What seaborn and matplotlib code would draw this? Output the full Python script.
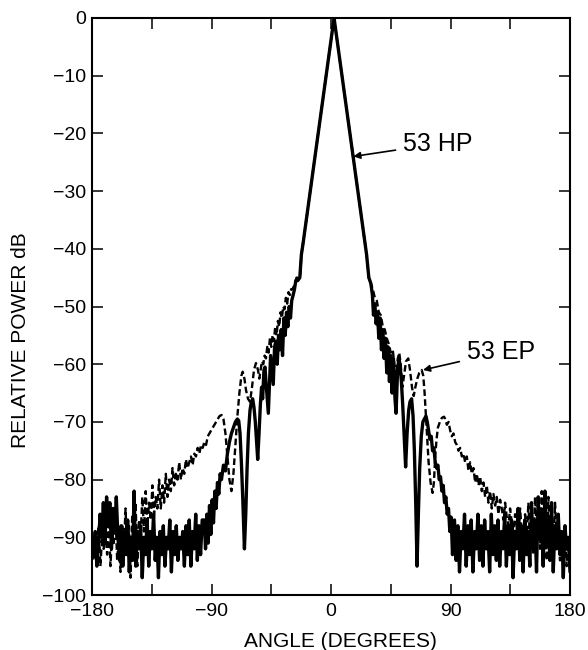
import numpy as np
import matplotlib
matplotlib.use("Agg")
import matplotlib.pyplot as plt
import seaborn as sns

# values: angle (deg), relative power (dB)

# 53 HP - noise floor on the left, sampled evenly from -180 to -97 deg
hp_left_floor = [-90, -93, -89, -95, -91,
                 -86, -90, -84, -91, -83, -88, -84, -92, -85, -89, -83,
                 -90, -94, -88, -95, -89, -93, -87, -96, -90, -94,
                 -82, -95, -89, -92, -88, -97, -90, -93, -87, -95, -89, -92,
                 -86, -94, -90, -97, -89, -93, -88, -95, -90, -92, -87, -96, -89, -93,
                 -88, -94, -90, -92, -89, -95, -88, -93, -87, -95, -89, -92, -86, -94,
                 -88, -93, -87]

# 53 HP - sidelobes and main beam
hp_lobes = [(-95.5, -87), (-94.5, -92), (-93.5, -86), (-92.5, -91), (-91.5, -84.5),
            (-90.5, -89.5), (-89.5, -83.5), (-88.5, -87.5), (-87.5, -82), (-86.5, -85),
            (-85.5, -80.5), (-84.5, -82.5), (-83.5, -79), (-82.5, -80), (-81, -77.5),
            (-79.5, -78.5), (-78, -75.5), (-76.5, -73.5), (-75, -72), (-73.5, -71),
            (-72, -70), (-70.5, -69.5), (-69.5, -69.8), (-68.5, -72), (-67.5, -77),
            (-66.5, -83), (-65.2, -92), (-64.2, -86), (-63.2, -78), (-62.2, -72),
            (-61, -68), (-60, -66.5), (-59, -66), (-58, -67.5), (-57, -70),
            (-56, -73.5), (-55.2, -76.5), (-54.2, -72), (-53.2, -67), (-52.3, -64),
            (-51.5, -66), (-50.5, -61), (-49.7, -60.5), (-49, -63), (-48, -66),
            (-47.2, -68.5), (-46.3, -63), (-45.5, -58.5), (-44.5, -61), (-43.5, -63.5),
            (-42.5, -57), (-41.5, -56), (-40.5, -60), (-39.5, -55), (-38.5, -57.5),
            (-37.5, -54), (-36.5, -58.5), (-35.5, -52), (-34.5, -55), (-33.5, -51),
            (-32.5, -53.5), (-31.5, -50), (-30.5, -52), (-29.6, -49), (-28.5, -48),
            (-27.5, -47), (-26.5, -45.5), (-25, -45.5), (-23.5, -45), (-22.3, -41),
            (-21, -39), (2.3, 0), (25.6, -39), (26.8, -41), (28.5, -45),
            (30, -46), (31.2, -48), (32, -51.5), (33, -49.5), (34, -53),
            (35, -51), (36, -55.5), (37, -52), (38, -57.5), (39, -54),
            (40, -59), (41, -55.5), (42, -61.5), (43, -57), (44, -63),
            (45, -58.5), (46, -65), (47, -59), (48.2, -66), (49, -68.5),
            (50, -62), (51, -59), (52, -60), (53, -63), (54, -67),
            (55.2, -73), (56.2, -77.8), (57.3, -72), (58.5, -68), (59.5, -66.5),
            (60.7, -66), (61.8, -69), (62.8, -75), (63.8, -84), (64.8, -95),
            (65.8, -86), (66.8, -78), (68, -72.5), (69.2, -70), (70.3, -69.5),
            (71.5, -69), (72.5, -70), (73.5, -71.5), (74.5, -73), (75.5, -72.5),
            (76.5, -75), (77.5, -74.5), (78.5, -77), (79.5, -78), (80.5, -77.5),
            (81.5, -80), (82.5, -79.5), (83.5, -82), (84.5, -81), (85.5, -84),
            (86.5, -83), (87.5, -86), (88.5, -85), (89.5, -89), (90.5, -86.5),
            (91.5, -93)]

# 53 HP - noise floor on the right, sampled evenly from 93 to 180 deg
hp_right_floor = [-87, -94, -88, -96, -89, -92, -86, -95, -88, -93, -87, -96, -89, -92,
                  -86, -94, -88, -95, -87, -92, -89, -96, -86, -93, -88, -94, -87, -95, -89, -92,
                  -86, -95, -88, -93, -87, -97, -89, -92, -85, -94, -88, -96, -87, -93, -89, -95,
                  -84, -92, -87, -96, -83, -90, -86, -95, -82, -91, -87, -94, -84, -96, -88, -92,
                  -86, -93, -89, -97, -88, -92, -90, -96]

# 53 EP - floor and rising skirt on the left, sampled evenly from -180 to -84 deg
ep_left_floor = [-91, -94, -89, -93, -88, -95, -90, -92,
                 -88, -93, -87, -95, -89, -91, -86, -94, -90, -96, -88, -92,
                 -85, -93, -88, -97, -86, -91, -84, -95, -87, -90, -83, -89,
                 -82, -88, -84, -87, -81, -86, -83, -85, -80, -85, -81, -84,
                 -79, -83, -80, -82, -78, -81, -79, -80, -77, -80, -78, -79,
                 -76.5, -78, -77, -76, -77.5, -75.5, -76, -74.5, -75.5, -74, -74.5,
                 -73.5, -74, -72.5, -72, -71.5, -71, -70.5, -70, -69.5, -69]

# 53 EP - sidelobes and main beam
ep_lobes = [(-82.4, -68.8), (-81, -69.5), (-79.5, -72), (-78, -76), (-76.5, -80),
            (-75, -82), (-73.5, -79), (-72, -74), (-70.5, -69), (-69, -65),
            (-67.5, -62), (-66.5, -61.3), (-65.2, -62.5), (-64, -64.5), (-62.5, -66),
            (-61, -66.5), (-59.5, -64), (-58, -61), (-56.5, -59.8), (-55, -61),
            (-54, -62.5), (-53, -61), (-52, -59.5), (-51, -60), (-50, -58.5),
            (-49, -59), (-48, -57), (-47, -58), (-46, -55.5), (-45, -57),
            (-44, -55), (-43, -56), (-42, -53.5), (-41, -55), (-40, -52.5),
            (-39, -53.5), (-38, -51), (-37, -52), (-36, -50), (-35, -50.5),
            (-34, -48.5), (-33, -49.5), (-32, -47.5), (-31, -48), (-30, -47),
            (-29, -47), (-28, -46.5), (-27, -46), (-26, -45), (-24.5, -45),
            (-23.2, -44.5), (-22.3, -41), (-21, -39), (2.3, 0), (25.6, -39),
            (26.8, -41), (28.5, -45), (30, -46), (31.5, -47), (33, -48.5),
            (34.5, -49), (36, -51), (37.5, -51.5), (39, -53.5), (40.5, -54),
            (42, -55.5), (43.5, -56.5), (45, -58), (46.5, -57.5), (48, -60.5),
            (49, -62), (50.3, -59), (51.4, -58), (52.5, -60), (53.7, -64),
            (55, -62), (56.5, -59.5), (58.2, -59), (59.5, -61), (61, -64),
            (62.3, -65.5), (63.5, -64), (65, -62.5), (66.5, -61.5), (68.3, -61),
            (69.5, -62), (70.5, -65), (71.5, -69), (72.5, -73), (73.5, -77),
            (75, -80.5), (76.5, -82.3), (77.5, -80.5), (78.5, -76), (79.5, -73),
            (80.5, -71), (82, -70), (83.5, -69.3), (85.1, -69.1)]

# 53 EP - falling skirt and floor on the right, sampled evenly from 86 to 180 deg
ep_right_floor = [-69.5, -70.5, -70, -71.5, -72.5, -72, -73.5, -74,
                  -75, -74.5, -76, -75.5, -77, -76, -78.5, -77, -79, -78, -80.5, -79,
                  -81, -79.5, -82, -80.5, -83, -81, -84, -82, -85, -82.5, -84.5, -83,
                  -86, -83.5, -85, -87, -84, -86.5, -88, -85, -87.5, -89, -86, -88,
                  -90, -85, -89, -92, -86, -90, -84, -91, -87, -93, -83, -89,
                  -86, -92, -82, -90, -87, -94, -83, -91, -86, -93, -84, -90,
                  -87, -94, -89, -92, -88, -95, -90, -93]

x_ticks = [-180, -90, 0, 90, 180]
x_minor = [-135, -45, 45, 135]
y_ticks = list(range(-100, 1, 10))


def build(left, lobes, right, left_range, right_range):
    a_left = np.linspace(left_range[0], left_range[1], len(left))
    a_right = np.linspace(right_range[0], right_range[1], len(right))
    a_mid = [p[0] for p in lobes]
    d_mid = [p[1] for p in lobes]
    angle = np.concatenate([a_left, a_mid, a_right])
    db = np.concatenate([left, d_mid, right])
    return angle, db


hp_angle, hp_db = build(hp_left_floor, hp_lobes, hp_right_floor, (-180, -97), (93, 180))
ep_angle, ep_db = build(ep_left_floor, ep_lobes, ep_right_floor, (-180, -84), (86, 180))

sns.set_style("ticks")
plt.rcParams['font.family'] = ['Liberation Sans', 'DejaVu Sans']
plt.rcParams['text.color'] = 'black'
plt.rcParams['axes.labelcolor'] = 'black'
plt.rcParams['xtick.color'] = 'black'
plt.rcParams['ytick.color'] = 'black'

fig = plt.figure(figsize=(5.88, 6.5), dpi=100)
ax = fig.add_axes([92 / 588, 1 - 595 / 650, 478 / 588, 577 / 650])

sns.lineplot(x=ep_angle, y=ep_db, sort=False, estimator=None, ax=ax,
             color="black", lw=1.7, linestyle=(0, (2.8, 1.4)))
sns.lineplot(x=hp_angle, y=hp_db, sort=False, estimator=None, ax=ax,
             color="black", lw=2.4)

ax.set_xlim(-180, 180)
ax.set_ylim(-100, 0)
ax.set_xticks(x_ticks)
ax.set_xticks(x_minor, minor=True)
ax.set_xticklabels([str(t).replace("-", "\u2212") for t in x_ticks])
ax.set_yticks(y_ticks)
ax.set_yticklabels([str(t).replace("-", "\u2212") for t in y_ticks])

ax.tick_params(axis="both", which="both", direction="in", length=8, width=1.1,
               top=True, right=True, labelsize=14, colors="black")
ax.tick_params(axis="x", which="both", pad=6)
ax.tick_params(axis="y", pad=4)
for s in ax.spines.values():
    s.set_linewidth(1.5)
    s.set_color("black")

ax.set_xlabel("ANGLE (DEGREES)", fontsize=15, color="black")
ax.set_ylabel("RELATIVE POWER dB", fontsize=15, color="black")
ax.xaxis.set_label_coords(0.519, -0.064)
ax.yaxis.set_label_coords(-0.13, 0.442)

arrow = dict(arrowstyle="-|>", color="black", lw=1.2, mutation_scale=10,
             shrinkA=3, shrinkB=0)
ax.annotate("53 HP", xy=(16.8, -24), xytext=(54.2, -21.8), fontsize=18,
            ha="left", va="center", color="black", arrowprops=arrow)
ax.annotate("53 EP", xy=(69.3, -61), xytext=(102.2, -57.9), fontsize=18,
            ha="left", va="center", color="black", arrowprops=arrow)

fig.savefig("out.png", dpi=100)
